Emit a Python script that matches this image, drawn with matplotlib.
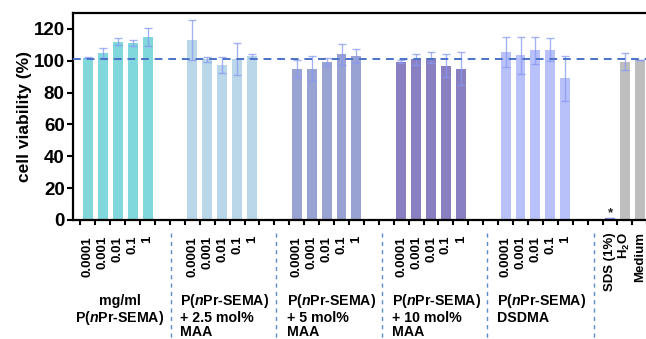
import matplotlib
matplotlib.use("Agg")
import matplotlib.pyplot as plt
import matplotlib.transforms as mtransforms

plt.rcParams['font.family'] = ['Liberation Sans', 'DejaVu Sans']
plt.rcParams['font.weight'] = 'bold'
plt.rcParams['mathtext.fontset'] = 'custom'
plt.rcParams['mathtext.rm'] = 'Liberation Sans:bold'
plt.rcParams['mathtext.it'] = 'Liberation Sans:italic:bold'
plt.rcParams['mathtext.bf'] = 'Liberation Sans:bold'

# ---- data ----
conc_labels = ["0.0001", "0.001", "0.01", "0.1", "1"]
group_names = ["mg/ml\nP($\\mathit{n}$Pr-SEMA)",
               "P($\\mathit{n}$Pr-SEMA)\n+ 2.5 mol%\nMAA",
               "P($\\mathit{n}$Pr-SEMA)\n+ 5 mol%\nMAA",
               "P($\\mathit{n}$Pr-SEMA)\n+ 10 mol%\nMAA",
               "P($\\mathit{n}$Pr-SEMA)\nDSDMA"]
group_means = [
    [102, 105, 112, 111, 115],
    [113, 101, 97.5, 101, 103],
    [95, 95, 99.5, 104, 103],
    [99.5, 101, 102, 97, 95],
    [105.5, 103.5, 106.5, 107, 89],
]
group_errs = [
    [0.5, 3, 2, 2, 5.5],
    [12.7, 1.5, 5, 10, 1.5],
    [5.5, 8, 2.5, 6.5, 4.5],
    [1.0, 3.5, 3.5, 7.5, 10.5],
    [9.5, 11.5, 8.5, 7, 14],
]
group_colors = ["#80d7dc", "#b9d7e8", "#98a2d3", "#8880c0", "#b9c1fb"]

ctrl_labels = ["SDS (1%)", "H$_\\mathregular{2}$O", "Medium"]
ctrl_means = [1.0, 99.5, 100.5]
ctrl_errs = [0.0, 5.2, 0.0]
ctrl_colors = ["#6a6aa8", "#bebebe", "#bebebe"]
reference_level = 101

W, H = 646, 339
fig = plt.figure(figsize=(W / 100, H / 100), dpi=100)
ax_left, ax_top, ax_bottom = 73, 13, 220
ax = fig.add_axes([ax_left / W, 1 - ax_bottom / H, 1 - ax_left / W + 0.002, (ax_bottom - ax_top) / H])

bar_w = 0.67
err_kw = dict(ecolor="#8898f4", elinewidth=1.0, capsize=3, capthick=1.0, alpha=0.75)

group_starts = [0, 7, 14, 21, 28]
for g, start in enumerate(group_starts):
    xs = [start + i for i in range(len(group_means[g]))]
    ax.bar(xs, group_means[g], width=bar_w, color=group_colors[g],
           yerr=group_errs[g], error_kw=err_kw, zorder=2)

ctrl_x = [35, 36, 37]
ax.bar(ctrl_x, ctrl_means, width=bar_w, color=ctrl_colors,
       yerr=ctrl_errs, error_kw=err_kw, zorder=2)
ax.text(35, 4.0, "*", ha="center", va="center", fontsize=9.5, color="#222222")

ax.axhline(reference_level, color="#4a72c8", lw=1.4, ls=(0, (4, 3)), zorder=3)

ax.set_xlim(-1, 37.45)
ax.set_ylim(0, 130)
ax.set_yticks([0, 20, 40, 60, 80, 100, 120])
ax.set_xticks([k - 0.5 for k in range(0, 39)])
ax.set_xticklabels([])
ax.tick_params(axis='y', labelsize=13.5, width=1.5, length=4, pad=2)
ax.tick_params(axis='x', width=1.5, length=3.5)
for lab in ax.get_yticklabels():
    lab.set_fontweight('bold')
for s in ['left', 'bottom', 'top']:
    ax.spines[s].set_linewidth(1.6)
ax.spines['right'].set_visible(False)

fig.text(25 / W, 1 - 116.5 / H, "cell viability (%)", rotation=90, ha='center', va='center',
         fontsize=12.5, fontweight='bold')

trans = mtransforms.blended_transform_factory(ax.transData, fig.transFigure)
def fy(py):
    return 1 - py / H

# concentration labels
for start in group_starts:
    for i, lab in enumerate(conc_labels):
        ax.text(start + i, fy(236), lab, rotation=90, ha='center', va='top',
                fontsize=9.5, fontweight='bold', transform=trans)
# control labels
for x, lab in zip(ctrl_x, ctrl_labels):
    ax.text(x, fy(232), lab, rotation=90, ha='center', va='top',
            fontsize=9.5, fontweight='bold', transform=trans)

# group labels
ax.text(2.15, fy(294), group_names[0], ha='center', va='top', multialignment='center',
        fontsize=10.2, fontweight='bold', linespacing=1.08, transform=trans)
for gx, name in zip([6.17, 13.36, 20.38, 27.43], group_names[1:]):
    ax.text(gx, fy(292), name, ha='left', va='top', fontsize=10.2, fontweight='bold',
            linespacing=1.05, transform=trans)

# separators
for sx in [5.55, 12.6, 19.7, 26.75, 33.9]:
    ax.plot([sx, sx], [fy(233), fy(339)], transform=trans, clip_on=False,
            color="#5b8bd0", lw=1.0, ls=(0, (3, 3)))

fig.savefig("out.png", dpi=100)
